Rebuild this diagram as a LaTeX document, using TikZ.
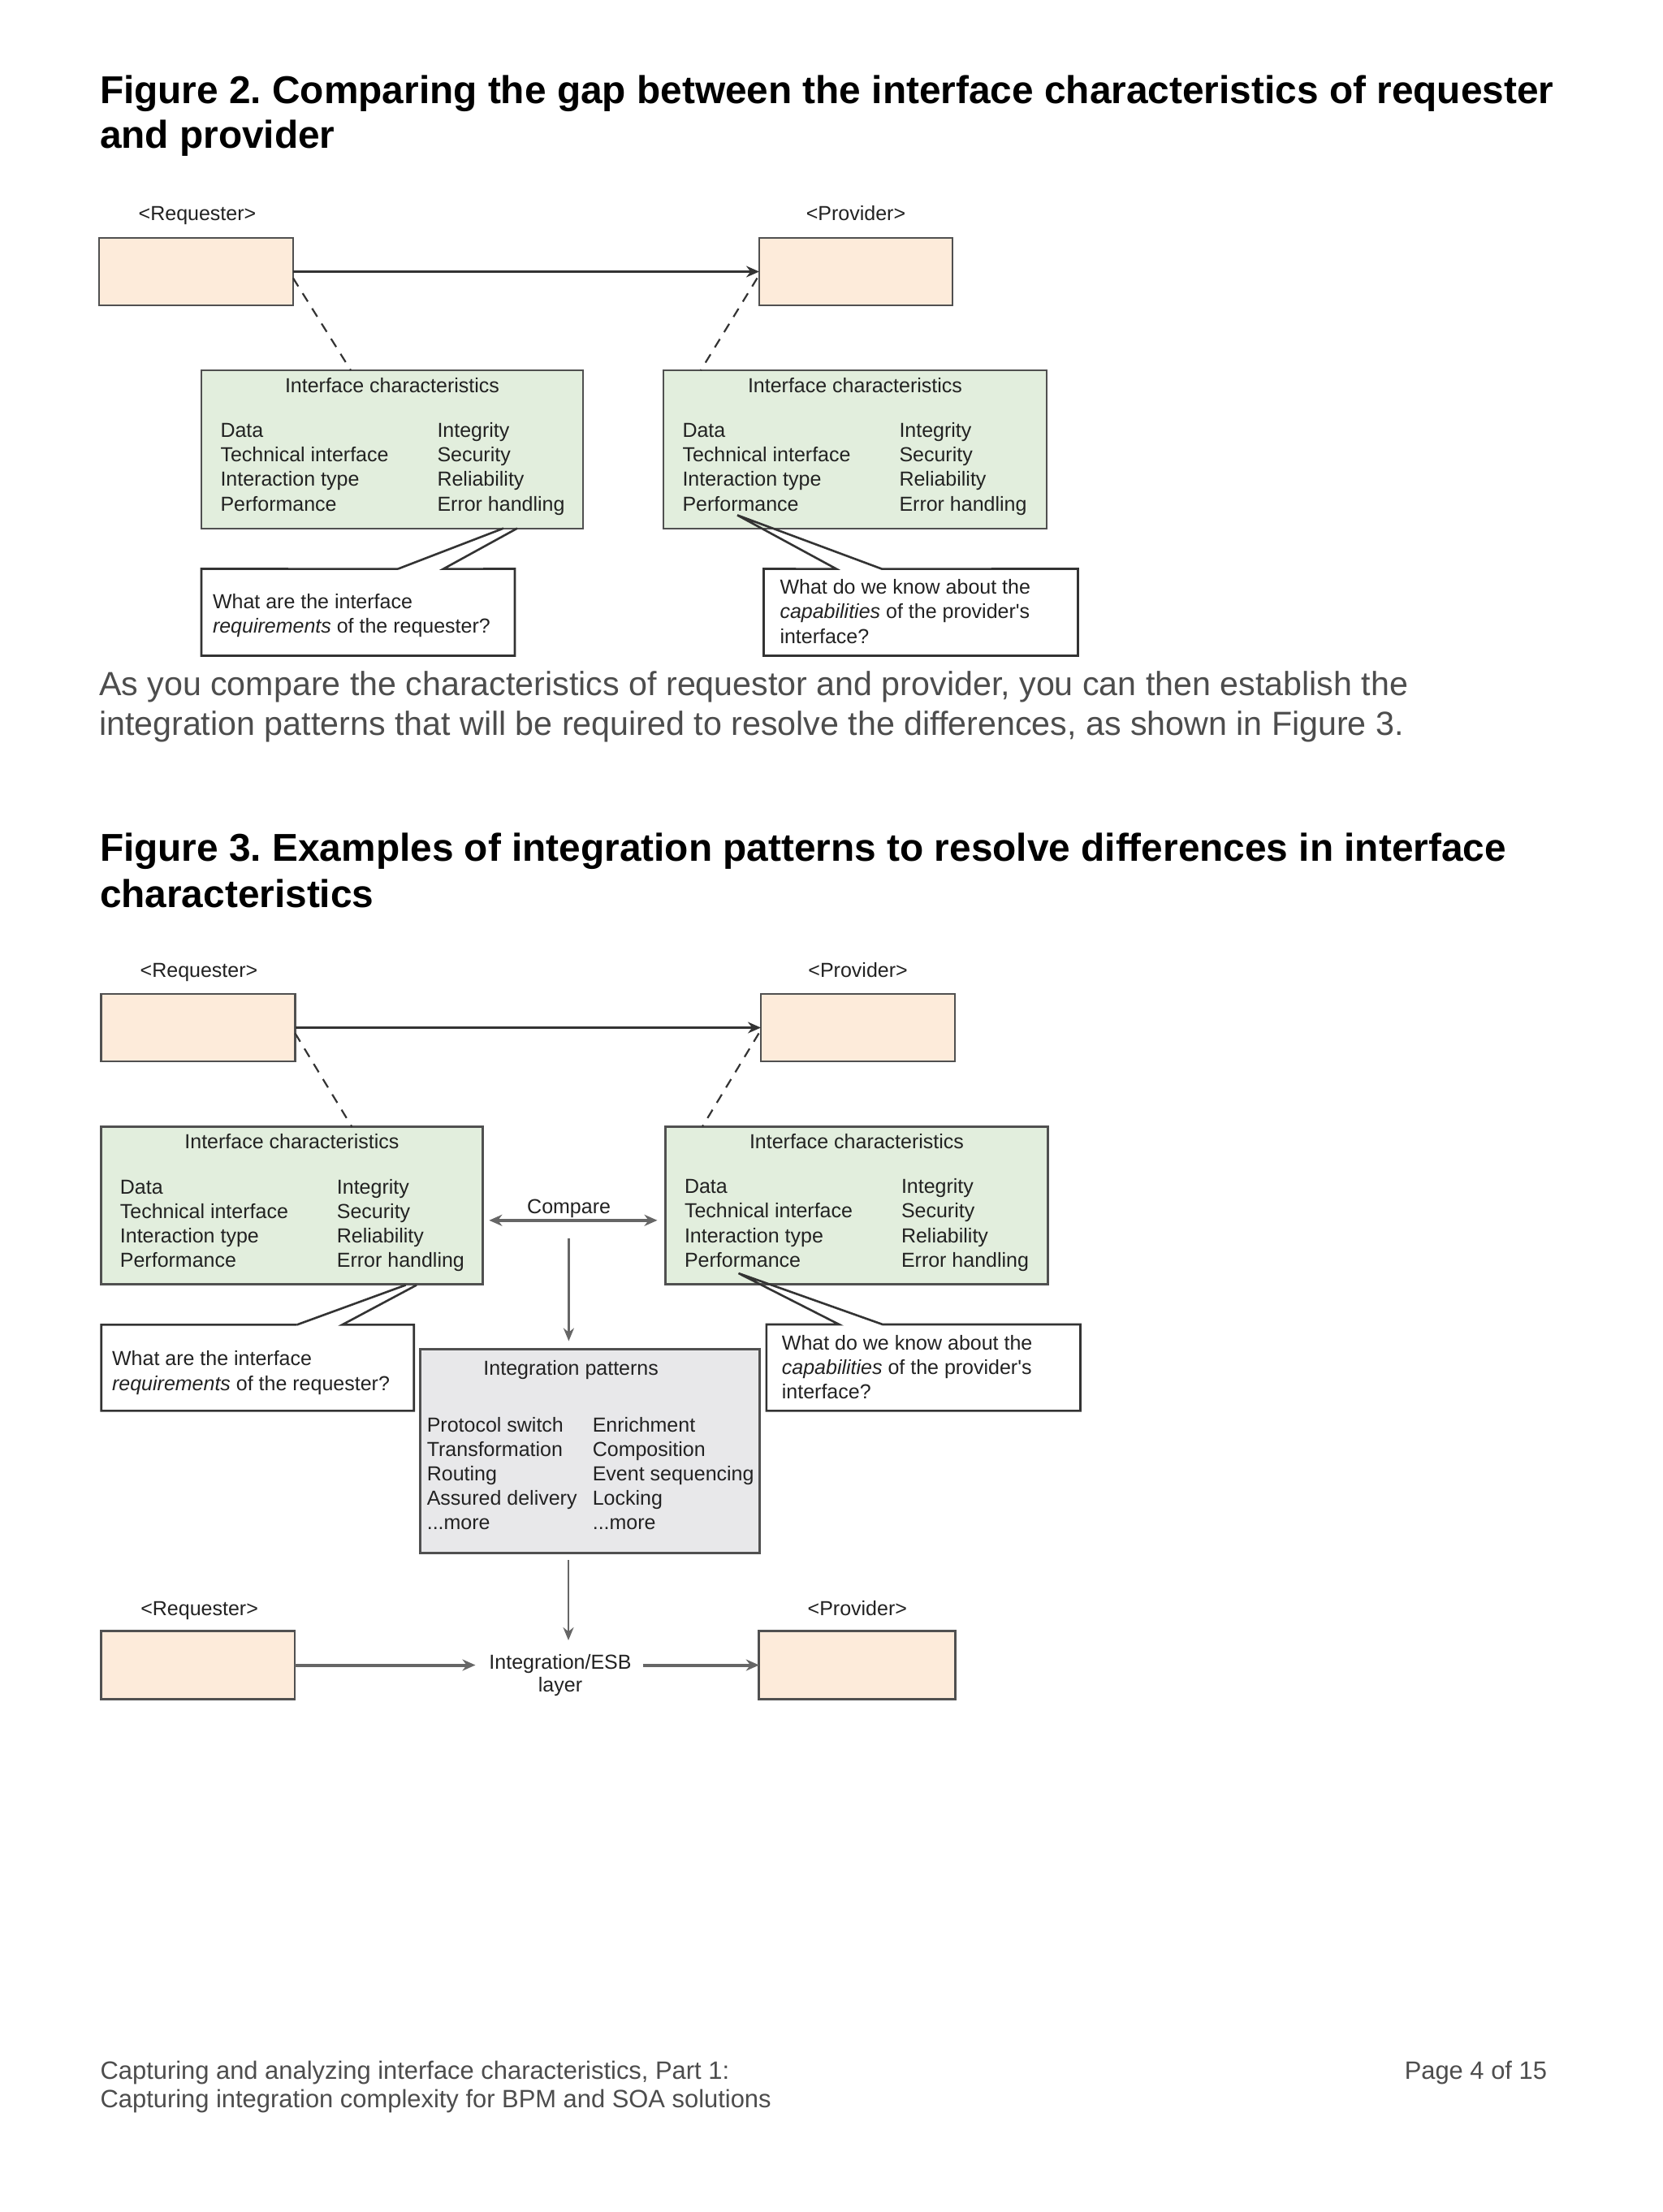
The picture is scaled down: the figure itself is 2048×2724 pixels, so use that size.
\documentclass[tikz,border=0pt]{standalone}
\usepackage{fontspec}
\setmainfont{Liberation Sans}
\usetikzlibrary{arrows.meta,calc}
\definecolor{reqfill}{HTML}{FDEBDA}
\definecolor{charfill}{HTML}{E2EEDD}
\definecolor{intfill}{HTML}{E8E8EA}
\definecolor{bord}{HTML}{505050}
\definecolor{txt}{HTML}{222222}
\definecolor{para}{HTML}{4D4D4D}
\definecolor{ln}{HTML}{333333}
\definecolor{ln2}{HTML}{666666}
\frenchspacing

\newcommand\ichars[1]{%
  \node[dtext,anchor=base] (#1-t) at ($(#1.north)+(0,27)$) {Interface characteristics};
  \node[dtext,anchor=base west] (#1-a) at ($(#1.north west)+(23.5,82.3)$) {Data};
  \node[dtext,anchor=base west] (#1-b) at ($(#1.north west)+(23.5,112.6)$) {Technical interface};
  \node[dtext,anchor=base west] (#1-c) at ($(#1.north west)+(23.5,142.9)$) {Interaction type};
  \node[dtext,anchor=base west] (#1-d) at ($(#1.north west)+(23.5,173.2)$) {Performance};
  \node[dtext,anchor=base west] (#1-e) at ($(#1.north west)+(290.5,82.3)$) {Integrity};
  \node[dtext,anchor=base west] (#1-f) at ($(#1.north west)+(290.5,112.6)$) {Security};
  \node[dtext,anchor=base west] (#1-g) at ($(#1.north west)+(290.5,142.9)$) {Reliability};
  \node[dtext,anchor=base west] (#1-h) at ($(#1.north west)+(290.5,173.2)$) {Error handling};
}

\begin{document}
\begin{tikzpicture}[x=0.5pt,y=-0.5pt,
  every node/.style={inner sep=0pt,outer sep=0pt},
  sz/.style 2 args={minimum width=#1*0.5pt,minimum height=#2*0.5pt},
  dtext/.style={font=\fontsize{12.5pt}{14.2pt}\selectfont,text=txt},
  ttl/.style={font=\fontsize{23.9pt}{28pt}\selectfont\bfseries,text=black,anchor=base west},
  ptext/.style={font=\fontsize{20.6pt}{24pt}\selectfont,text=para,anchor=base west},
  ftext/.style={font=\fontsize{15.45pt}{18pt}\selectfont,text=para},
  reqbox/.style={draw=bord,line width=1.4pt,fill=reqfill},
  charbox/.style={draw=bord,line width=1.4pt,fill=charfill},
  intbox/.style={draw=bord,line width=1.4pt,fill=intfill},
  callbox/.style={fill=white},
  callb/.style={draw=ln,line width=1.3pt,line join=miter},
  arrT/.style={draw=ln,line width=1.1pt,-{Stealth[length=8pt,width=7pt]}},
  arrC/.style={draw=ln2,line width=1.7pt,{Stealth[length=8pt,width=7pt]}-{Stealth[length=8pt,width=7pt]}},
  arrD/.style={draw=ln2,line width=1.3pt,-{Stealth[length=8pt,width=6.5pt]}},
  arrE/.style={draw=ln2,line width=2pt,-{Stealth[length=8pt,width=7pt]}},
  dsh/.style={draw=ln,line width=1.1pt,dash pattern=on 6pt off 5pt}
]
\useasboundingbox[fill=white] (0,0) rectangle (2048,2724);

% ---------- Figure 2 title ----------
\node[ttl] (t2a) at (123,128) {Figure 2. Comparing the gap between the interface characteristics of requester};
\node[ttl] (t2b) at (123,183) {and provider};

% ---------- Figure 2 ----------
\node[dtext,anchor=base] (lr2) at (243,271.6) {<Requester>};
\node[dtext,anchor=base] (lp2) at (1054,271.6) {<Provider>};
\node[reqbox,sz={239}{83}] (rq2) at (241.5,334.5) {};
\node[reqbox,sz={238}{83}] (pv2) at (1054,334.5) {};
\draw[arrT] (rq2) -- (pv2);

\node[charbox,sz={470}{195}] (c2L) at (483,553.5) {};
\node[charbox,sz={472}{195}] (c2R) at (1053,553.5) {};
\ichars{c2L}
\ichars{c2R}
\draw[dsh] ($(rq2.east)+(0,8)$) -- ($(c2L.north west)+(184,0)$);
\draw[dsh] ($(pv2.west)+(-2.5,8)$) -- ($(c2R.north west)+(46,0)$);

\node[callbox,sz={386}{107}] (q2L) at (441,754) {};
\draw[callb] (490,700.6) -- (q2L.north west) -- (q2L.south west) -- (q2L.south east) -- (q2L.north east) -- (546,700.6) -- (637,650.6);
\draw[callb] (620,650.6) -- (490,700.6);
\node[dtext,anchor=base west] (q2La) at ($(q2L.north west)+(14,49)$) {What are the interface};
\node[dtext,anchor=base west] (q2Lb) at ($(q2L.north west)+(14,79)$) {\textit{requirements} of the requester?};

\node[callbox,sz={387}{107}] (q2R) at (1134,754) {};
\draw[callb] (1030,700.6) -- (q2R.north west) -- (q2R.south west) -- (q2R.south east) -- (q2R.north east) -- (1086,700.6) -- (908,634.4) -- cycle;
\node[dtext,anchor=base west] (q2Ra) at ($(q2R.north west)+(20,30.5)$) {What do we know about the};
\node[dtext,anchor=base west] (q2Rb) at ($(q2R.north west)+(20,61)$) {\textit{capabilities} of the provider\textquotesingle s};
\node[dtext,anchor=base west] (q2Rc) at ($(q2R.north west)+(20,91.5)$) {interface?};

% ---------- paragraph ----------
\node[ptext] (pa) at (122,856.7) {As you compare the characteristics of requestor and provider, you can then establish the};
\node[ptext] (pb) at (122,905) {integration patterns that will be required to resolve the differences, as shown in Figure 3.};

% ---------- Figure 3 title ----------
\node[ttl] (t3a) at (123,1060) {Figure 3. Examples of integration patterns to resolve differences in interface};
\node[ttl] (t3b) at (123,1117) {characteristics};

% ---------- Figure 3 ----------
\node[dtext,anchor=base] (lr3) at (245,1203) {<Requester>};
\node[dtext,anchor=base] (lp3) at (1056.6,1203) {<Provider>};
\node[reqbox,sz={239}{83}] (rq3) at (244,1265.5) {};
\node[reqbox,sz={239}{83}] (pv3) at (1056.5,1265.5) {};
\draw[arrT] (rq3) -- (pv3);

\node[charbox,sz={470}{194}] (c3L) at (359.4,1484.7) {};
\node[charbox,sz={471}{194}] (c3R) at (1055,1484.3) {};
\ichars{c3L}
\ichars{c3R}
\draw[dsh] ($(rq3.east)+(0,7)$) -- ($(c3L.north west)+(309,0)$);
\draw[dsh] ($(pv3.west)+(-2.5,7)$) -- ($(c3R.north west)+(45.5,0)$);

% compare
\coordinate (cmp) at (700.4,1502.8);
\node[dtext,anchor=base] (cmpt) at (700.6,1494) {Compare};
\draw[arrC,shorten <=4pt,shorten >=5pt] (c3L.east |- cmp) -- (c3R.west |- cmp);

% integration patterns
\node[intbox,sz={418}{251}] (ip) at (726.5,1787) {};
\node[dtext,anchor=base] (ipt) at ($(ip.north)+(-23.3,32.3)$) {Integration patterns};
\node[dtext,anchor=base west] (ip1) at ($(ip.north west)+(8.3,102.3)$) {Protocol switch};
\node[dtext,anchor=base west] (ip2) at ($(ip.north west)+(8.3,132.3)$) {Transformation};
\node[dtext,anchor=base west] (ip3) at ($(ip.north west)+(8.3,162.3)$) {Routing};
\node[dtext,anchor=base west] (ip4) at ($(ip.north west)+(8.3,192.3)$) {Assured delivery};
\node[dtext,anchor=base west] (ip5) at ($(ip.north west)+(8.3,222.3)$) {...more};
\node[dtext,anchor=base west] (ip6) at ($(ip.north west)+(212.3,102.3)$) {Enrichment};
\node[dtext,anchor=base west] (ip7) at ($(ip.north west)+(212.3,132.3)$) {Composition};
\node[dtext,anchor=base west] (ip8) at ($(ip.north west)+(212.3,162.3)$) {Event sequencing};
\node[dtext,anchor=base west] (ip9) at ($(ip.north west)+(212.3,192.3)$) {Locking};
\node[dtext,anchor=base west] (ip10) at ($(ip.north west)+(212.3,222.3)$) {...more};

\coordinate (d1) at (700.4,1525);
\draw[arrD,shorten >=5pt] (d1) -- (d1 |- ip.north);

% callouts fig 3
\node[callbox,sz={385}{106}] (q3L) at (317.2,1684.4) {};
\draw[callb] (365.6,1631.4) -- (q3L.north west) -- (q3L.south west) -- (q3L.south east) -- (q3L.north east) -- (421.4,1631.4) -- (513,1582.5);
\draw[callb] (499.6,1582.5) -- (365.6,1631.4);
\node[dtext,anchor=base west] (q3La) at ($(q3L.north west)+(13.4,50)$) {What are the interface};
\node[dtext,anchor=base west] (q3Lb) at ($(q3L.north west)+(13.4,80.6)$) {\textit{requirements} of the requester?};

\node[callbox,sz={386.6}{106.4}] (q3R) at (1137.2,1684.2) {};
\draw[callb] (1033.4,1631) -- (q3R.north west) -- (q3R.south west) -- (q3R.south east) -- (q3R.north east) -- (1087,1631) -- (909.5,1568) -- cycle;
\node[dtext,anchor=base west] (q3Ra) at ($(q3R.north west)+(19,31.3)$) {What do we know about the};
\node[dtext,anchor=base west] (q3Rb) at ($(q3R.north west)+(19,61.9)$) {\textit{capabilities} of the provider\textquotesingle s};
\node[dtext,anchor=base west] (q3Rc) at ($(q3R.north west)+(19,91.6)$) {interface?};

% bottom row
\node[dtext,anchor=base] (lr4) at (245.6,1989) {<Requester>};
\node[dtext,anchor=base] (lp4) at (1055.8,1989) {<Provider>};
\node[reqbox,sz={238.4}{84.4}] (rq4) at (243.8,2050.5) {};
\node[reqbox,sz={242}{84.4}] (pv4) at (1055.8,2050.5) {};
\node[dtext,align=center,anchor=north] (esb) at (690,2037) {Integration/ESB\\layer};
\draw[arrE,shorten >=8.5pt] (rq4.east) -- (rq4.east -| esb.west);
\draw[arrE,shorten <=7pt] (pv4.west -| esb.east) -- (pv4.west);
\coordinate (d2) at (700,1921);
\draw[arrD,shorten >=8.5pt] (d2) -- (d2 |- esb.north);

% ---------- footer ----------
\node[ftext,anchor=base west] (fa) at (123.6,2560) {Capturing and analyzing interface characteristics, Part 1:};
\node[ftext,anchor=base west] (fb) at (123.6,2595) {Capturing integration complexity for BPM and SOA solutions};
\node[ftext,anchor=base east] (fc) at (1905,2560) {Page 4 of 15};
\end{tikzpicture}
\end{document}
